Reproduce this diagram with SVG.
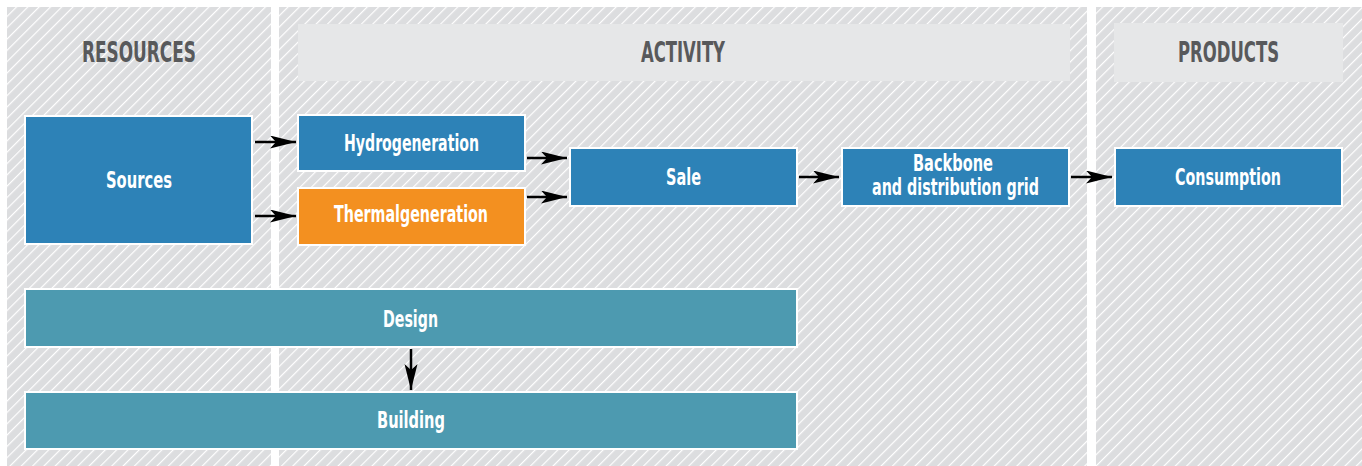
<svg xmlns="http://www.w3.org/2000/svg" width="1362" height="466" viewBox="0 0 1362 466">
<defs>
<pattern id="hatch" patternUnits="userSpaceOnUse" width="8" height="8" patternTransform="rotate(45)">
<rect width="8" height="8" fill="#dcdddf"/>
<line x1="0" y1="0" x2="0" y2="8" stroke="#ffffff" stroke-width="2.4"/>
</pattern>
<marker id="arr" markerWidth="28" markerHeight="14" refX="26" refY="6.5" orient="auto" markerUnits="userSpaceOnUse">
<path d="M0,0 L26,6.5 L0,13 L6,6.5 Z" fill="#000"/>
</marker>
<style>
.panel{fill:url(#hatch);}
.hdr{fill:#e6e7e8;}
.htxt{font-family:"Liberation Sans Narrow","DejaVu Sans Condensed","Liberation Sans",sans-serif;font-weight:bold;font-size:29px;fill:#58595b;text-anchor:middle;}
.ntxt{font-family:"Liberation Sans Narrow","DejaVu Sans Condensed","Liberation Sans",sans-serif;font-weight:bold;font-size:23px;fill:#ffffff;text-anchor:middle;}
.blue{fill:#2d82b7;stroke:#fff;stroke-width:2;}
.orange{fill:#f39020;stroke:#fff;stroke-width:2;}
.teal{fill:#4d9ab0;stroke:#fff;stroke-width:2;}
.conn{stroke:#000;stroke-width:2.5;fill:none;marker-end:url(#arr);}
</style>
</defs>
<rect width="1362" height="466" fill="#ffffff"/>
<g id="panels">
<rect class="panel" x="7" y="7" width="264" height="459"/>
<rect class="panel" x="279" y="7" width="808" height="459"/>
<rect class="panel" x="1096" y="7" width="266" height="459"/>
<rect class="hdr" x="298" y="24" width="772" height="57"/>
<rect class="hdr" x="1114" y="23" width="229" height="59"/>
<text class="htxt" x="139" y="62" textLength="114" lengthAdjust="spacingAndGlyphs">RESOURCES</text>
<text class="htxt" x="683" y="62" textLength="84" lengthAdjust="spacingAndGlyphs">ACTIVITY</text>
<text class="htxt" x="1228.5" y="62" textLength="101" lengthAdjust="spacingAndGlyphs">PRODUCTS</text>
</g>
<g id="sources">
<rect class="blue" x="25" y="116" width="227" height="128"/>
<text class="ntxt" x="139" y="188" textLength="66" lengthAdjust="spacingAndGlyphs">Sources</text>
</g>
<g id="hydrogeneration">
<rect class="blue" x="298" y="115" width="227" height="56"/>
<text class="ntxt" x="411.5" y="151" textLength="135" lengthAdjust="spacingAndGlyphs">Hydrogeneration</text>
</g>
<g id="thermalgeneration">
<rect class="orange" x="298" y="188" width="227" height="57"/>
<text class="ntxt" x="411" y="222" textLength="154" lengthAdjust="spacingAndGlyphs">Thermalgeneration</text>
</g>
<g id="sale">
<rect class="blue" x="570" y="148" width="227" height="58"/>
<text class="ntxt" x="683.5" y="185" textLength="35" lengthAdjust="spacingAndGlyphs">Sale</text>
</g>
<g id="backbone">
<rect class="blue" x="842" y="148" width="227" height="58"/>
<text class="ntxt" x="953" y="171" textLength="80" lengthAdjust="spacingAndGlyphs">Backbone</text>
<text class="ntxt" x="955.5" y="195" textLength="167" lengthAdjust="spacingAndGlyphs">and distribution grid</text>
</g>
<g id="consumption">
<rect class="blue" x="1115" y="148" width="227" height="58"/>
<text class="ntxt" x="1228" y="185" textLength="106" lengthAdjust="spacingAndGlyphs">Consumption</text>
</g>
<g id="design">
<rect class="teal" x="25" y="289" width="772" height="58"/>
<text class="ntxt" x="410.5" y="327" textLength="55" lengthAdjust="spacingAndGlyphs">Design</text>
</g>
<g id="building">
<rect class="teal" x="25" y="392" width="772" height="57"/>
<text class="ntxt" x="411" y="428" textLength="68" lengthAdjust="spacingAndGlyphs">Building</text>
</g>
<g id="connectors">
<line class="conn" x1="255" y1="142" x2="296" y2="142"/>
<line class="conn" x1="255" y1="216" x2="296" y2="216"/>
<line class="conn" x1="527" y1="158" x2="567" y2="158"/>
<line class="conn" x1="527" y1="197" x2="567" y2="197"/>
<line class="conn" x1="799" y1="177" x2="839" y2="177"/>
<line class="conn" x1="1071" y1="177" x2="1112" y2="177"/>
<line class="conn" x1="411" y1="349" x2="411" y2="390"/>
</g>
</svg>
